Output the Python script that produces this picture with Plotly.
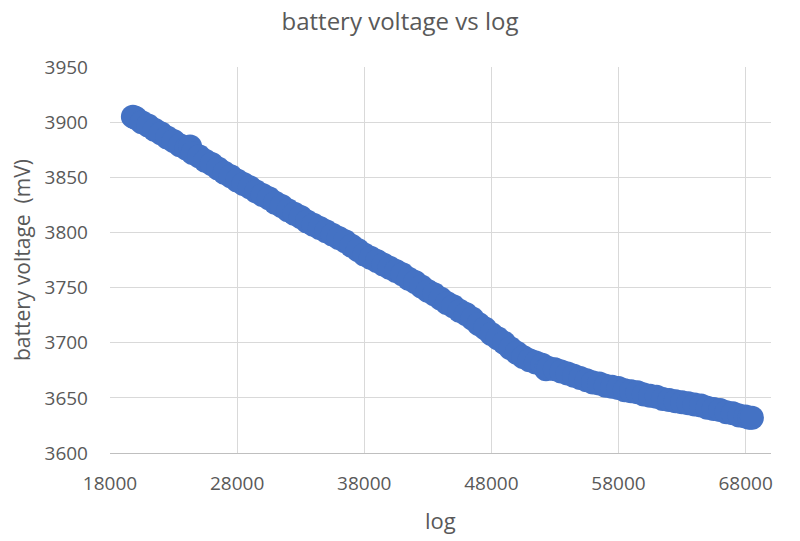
import plotly.graph_objects as go

# Values
log_values = [
    19800, 20000, 20500, 21000, 21500, 22000, 22500, 23000, 23500, 24000,
    24300, 24500, 25000, 25500, 26000, 26500, 27000, 27500, 28000, 28500,
    29000, 29500, 30000, 30500, 31000, 31500, 32000, 32500, 33000, 33500,
    34000, 34500, 35000, 35500, 36000, 36500, 37000, 37500, 38000, 38500,
    39000, 39500, 40000, 40500, 41000, 41500, 42000, 42500, 43000, 43500,
    44000, 44500, 45000, 45500, 46000, 46500, 47000, 47500, 48000, 48500,
    49000, 49500, 50000, 50500, 51000, 51500, 52000, 52300, 52500, 53000,
    53500, 54000, 54500, 55000, 55500, 56000, 56500, 57000, 57500, 58000,
    58500, 59000, 59500, 60000, 60500, 61000, 61500, 62000, 62500, 63000,
    63500, 64000, 64500, 65000, 65500, 66000, 66500, 67000, 67500, 68000,
    68300, 68500,
]
voltage_mv = [
    3905, 3904, 3900, 3897, 3893, 3890, 3886, 3883, 3879, 3876,
    3878, 3872, 3869, 3865, 3862, 3858, 3854, 3851, 3847, 3844,
    3841, 3837, 3834, 3831, 3827, 3824, 3820, 3817, 3814, 3810,
    3807, 3804, 3801, 3798, 3795, 3792, 3788, 3784, 3780, 3777,
    3774, 3771, 3768, 3765, 3762, 3758, 3755, 3751, 3747, 3744,
    3740, 3736, 3733, 3729, 3726, 3722, 3717, 3713, 3708, 3704,
    3700, 3695, 3691, 3687, 3684, 3682, 3680, 3676, 3677, 3676,
    3674, 3672, 3670, 3668, 3666, 3664, 3663, 3661, 3660, 3659,
    3657, 3656, 3655, 3653, 3652, 3651, 3649, 3648, 3647, 3646,
    3645, 3644, 3643, 3641, 3640, 3639, 3637, 3636, 3634, 3633,
    3632, 3632,
]

x_ticks = [18000, 28000, 38000, 48000, 58000, 68000]
y_ticks = [3600, 3650, 3700, 3750, 3800, 3850, 3900, 3950]

TEXT = "#595959"
GRID = "#D9D9D9"
FONT = "Open Sans"

fig = go.Figure()
fig.add_trace(go.Scatter(
    x=log_values, y=voltage_mv, mode="markers",
    marker=dict(color="#4472C4", size=24, line=dict(width=0)),
    showlegend=False, hoverinfo="x+y",
))

fig.update_layout(
    width=800, height=541,
    margin=dict(l=110, r=29, t=67, b=88),
    paper_bgcolor="white", plot_bgcolor="white",
    font=dict(family=FONT, color=TEXT),
    title=dict(text="battery voltage vs log", x=0.5, xanchor="center",
               y=1 - 22 / 541, yref="container", yanchor="middle",
               font=dict(family=FONT, size=24, color=TEXT)),
    xaxis=dict(range=[18000, 70000], tickvals=x_ticks,
               ticktext=[str(v) for v in x_ticks],
               showgrid=True, gridcolor=GRID, gridwidth=1,
               zeroline=False, showline=True, linecolor="#BFBFBF", linewidth=1,
               ticks="", ticklabelstandoff=13,
               tickfont=dict(family=FONT, size=19, color=TEXT)),
    yaxis=dict(range=[3600, 3950], tickvals=y_ticks,
               ticktext=[str(v) for v in y_ticks],
               showgrid=True, gridcolor=GRID, gridwidth=1,
               zeroline=False, showline=False,
               ticks="", ticklabelstandoff=21,
               tickfont=dict(family=FONT, size=19, color=TEXT)),
    annotations=[
        dict(text="log", xref="paper", yref="paper", x=0.5, y=0,
             yshift=-67, xanchor="center", yanchor="middle", showarrow=False,
             font=dict(family=FONT, size=22, color=TEXT)),
        dict(text="battery voltage  (mV)", xref="paper", yref="paper",
             x=0, y=0.5, xshift=-88, xanchor="center", yanchor="middle",
             textangle=-90, showarrow=False,
             font=dict(family=FONT, size=21, color=TEXT)),
    ],
)

fig.write_html("out.html")
